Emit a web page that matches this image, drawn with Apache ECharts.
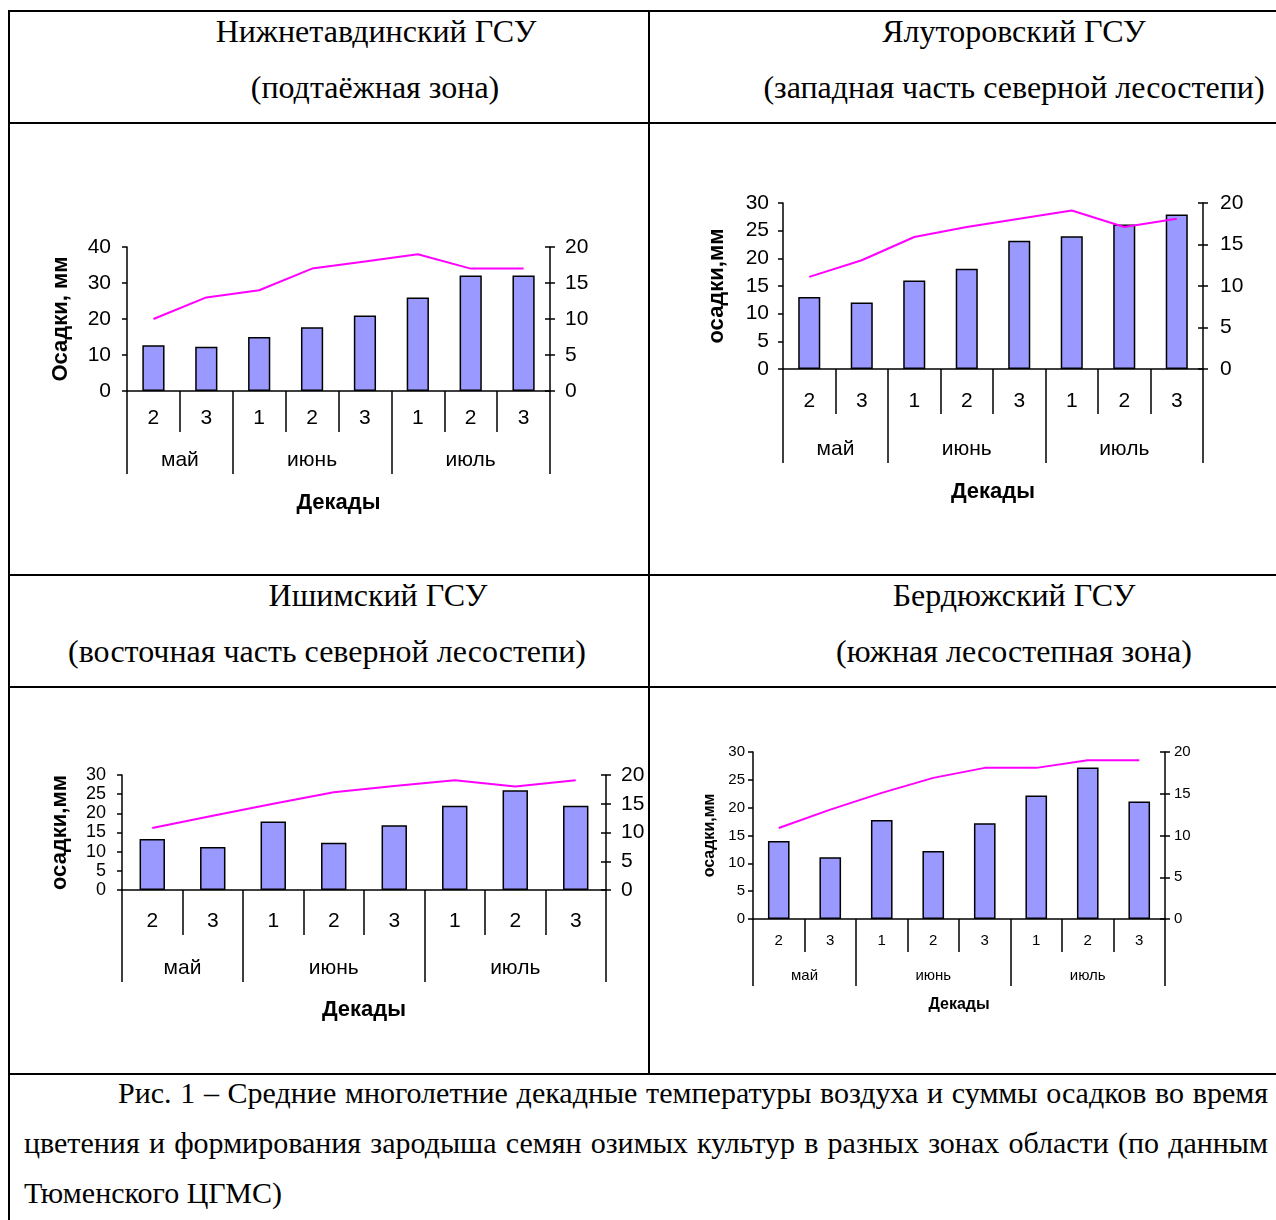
<!DOCTYPE html>
<html>
<head>
<meta charset="utf-8">
<title>Осадки и температуры</title>
<script src="https://cdn.jsdelivr.net/npm/echarts@6/dist/echarts.min.js"></script>
<style>
  body { margin: 0; background: #fff; }
  #page { position: relative; width: 1276px; height: 1220px; overflow: hidden;
          font-family: "Liberation Serif", "Times New Roman", serif; color: #000; }
  .hl { position: absolute; height: 2px; background: #000; }
  .vl { position: absolute; width: 2px; background: #000; }
  .cap { position: absolute; font-size: 32px; line-height: 36px; white-space: nowrap; transform: translateX(-50%); }
  .para { position: absolute; left: 24px; width: 1244px; font-size: 30px; line-height: 50px; white-space: nowrap; }
  .just { text-align: justify; text-align-last: justify; }
  #chart { position: absolute; left: 0; top: 0; width: 1276px; height: 1220px; }
</style>
</head>
<body>
<div id="page">
  <!-- рамка таблицы -->
  <div class="hl" style="left:8px; top:10px; width:1268px;"></div>
  <div class="hl" style="left:8px; top:122px; width:1268px;"></div>
  <div class="hl" style="left:8px; top:574px; width:1268px;"></div>
  <div class="hl" style="left:8px; top:686px; width:1268px;"></div>
  <div class="hl" style="left:8px; top:1073px; width:1268px;"></div>
  <div class="vl" style="left:8px; top:10px; height:1210px;"></div>
  <div class="vl" style="left:648px; top:10px; height:1065px;"></div>

  <!-- заголовки ячеек -->
  <div class="cap" style="left:376px; top:13px;">Нижнетавдинский ГСУ</div>
  <div class="cap" style="left:375px; top:69px;">(подтаёжная зона)</div>
  <div class="cap" style="left:1014px; top:13px;">Ялуторовский ГСУ</div>
  <div class="cap" style="left:1014px; top:69px;">(западная часть северной лесостепи)</div>
  <div class="cap" style="left:378px; top:577px;">Ишимский ГСУ</div>
  <div class="cap" style="left:327px; top:633px;">(восточная часть северной лесостепи)</div>
  <div class="cap" style="left:1014px; top:577px;">Бердюжский ГСУ</div>
  <div class="cap" style="left:1014px; top:633px;">(южная лесостепная зона)</div>

  <!-- подпись к рисунку -->
  <div class="para just" style="top:1068px; left:118px; width:1150px;">Рис. 1 – Средние многолетние декадные температуры воздуха и суммы осадков во время</div>
  <div class="para just" style="top:1118px;">цветения и формирования зародыша семян озимых культур в разных зонах области (по данным</div>
  <div class="para" style="top:1168px;">Тюменского ЦГМС)</div>

  <div id="chart"></div>
</div>

<script>
// категории: декады и месяцы
const decades = ['2', '3', '1', '2', '3', '1', '2', '3'];
const months = ['май', 'июнь', 'июль'];
const monthSpan = [2, 3, 3]; // сколько декад в каждом месяце

// осадки, мм (столбики) и температура, °C (линия)
const precipNizhnetavda = [12.7, 12.3, 15.0, 17.7, 21.0, 26.0, 32.1, 32.1];
const tempNizhnetavda   = [10.0, 13.0, 14.0, 17.0, 18.0, 19.0, 17.0, 17.0];

const precipYalutorovsk = [13.0, 12.0, 16.0, 18.1, 23.2, 24.0, 26.1, 27.9];
const tempYalutorovsk   = [11.1, 13.1, 15.9, 17.1, 18.1, 19.1, 17.1, 18.1];

const precipIshim = [13.3, 11.2, 17.9, 12.3, 16.9, 22.0, 26.0, 22.0];
const tempIshim   = [10.8, 12.9, 15.0, 17.0, 18.1, 19.1, 18.0, 19.1];

const precipBerdyuzhye = [14.0, 11.1, 17.8, 12.2, 17.2, 22.2, 27.2, 21.1];
const tempBerdyuzhye   = [10.9, 13.1, 15.1, 16.9, 18.1, 18.1, 19.0, 19.0];

const SANS = '"Liberation Sans", Arial, sans-serif';

// ось месяцев: 2 слота на декаду, подписи в серединах, засечки на границах
let monthSlots = new Array(decades.length * 2 + 1).fill('');
let monthTickIdx = [0];
let acc = 0;
months.forEach(function (m, i) {
  monthSlots[acc * 2 + monthSpan[i]] = m;
  acc += monthSpan[i];
  monthTickIdx.push(acc * 2);
});

const panels = [
  { precip: precipNizhnetavda, temp: tempNizhnetavda, pMax: 40, pStep: 10, yName: 'Осадки, мм',
    left: 127, right: 550, top: 247, bottom: 391, font: 21, lFont: 21, nameFont: 22,
    decTick: 41, monTick: 83, decMargin: 17, monMargin: 59, xNameGap: 101, yNameGap: 55,
    lMargin: 16, rMargin: 15 },
  { precip: precipYalutorovsk, temp: tempYalutorovsk, pMax: 30, pStep: 5, yName: 'осадки,мм',
    left: 783, right: 1203, top: 203, bottom: 369, font: 21, lFont: 21, nameFont: 22,
    decTick: 45, monTick: 94, decMargin: 22, monMargin: 70, xNameGap: 112, yNameGap: 55,
    lMargin: 14, rMargin: 17 },
  { precip: precipIshim, temp: tempIshim, pMax: 30, pStep: 5, yName: 'осадки,мм',
    left: 122, right: 606, top: 775, bottom: 890, font: 21, lFont: 18, nameFont: 22,
    decTick: 45, monTick: 92, decMargin: 21, monMargin: 68, xNameGap: 109, yNameGap: 51,
    lMargin: 16, rMargin: 15 },
  { precip: precipBerdyuzhye, temp: tempBerdyuzhye, pMax: 30, pStep: 5, yName: 'осадки,мм',
    left: 753, right: 1165, top: 752, bottom: 919, font: 15, lFont: 15, nameFont: 16,
    decTick: 33, monTick: 67, decMargin: 14, monMargin: 49, xNameGap: 78, yNameGap: 35,
    lMargin: 8, rMargin: 9 }
];

const black = { color: '#000', width: 1.5 };
let option = {
  animation: false,
  textStyle: { fontFamily: SANS, color: '#000' },
  grid: [], xAxis: [], yAxis: [], series: []
};

panels.forEach(function (p, i) {
  option.grid.push({
    left: p.left, top: p.top, width: p.right - p.left, height: p.bottom - p.top,
    outerBoundsMode: 'none'
  });
  // декады
  option.xAxis.push({
    type: 'category', gridIndex: i, data: decades, boundaryGap: true, position: 'bottom',
    axisLine: { show: true, lineStyle: black },
    axisTick: { show: true, interval: 0, length: p.decTick, lineStyle: black },
    axisLabel: { interval: 0, margin: p.decMargin, fontSize: p.font, color: '#000', fontFamily: SANS },
    splitLine: { show: false }
  });
  // месяцы
  option.xAxis.push({
    type: 'category', gridIndex: i, data: monthSlots, boundaryGap: false, position: 'bottom',
    axisLine: { show: false },
    axisTick: { show: true, length: p.monTick, lineStyle: black,
                interval: function (idx) { return monthTickIdx.indexOf(idx) >= 0; } },
    axisLabel: { interval: 0, margin: p.monMargin, fontSize: p.font, color: '#000', fontFamily: SANS },
    splitLine: { show: false },
    name: 'Декады', nameLocation: 'middle', nameGap: p.xNameGap, nameMoveOverlap: false,
    nameTextStyle: { fontWeight: 'bold', fontSize: p.nameFont, color: '#000', fontFamily: SANS }
  });
  // осадки
  option.yAxis.push({
    type: 'value', gridIndex: i, position: 'left', min: 0, max: p.pMax, interval: p.pStep,
    axisLine: { show: true, lineStyle: black },
    axisTick: { show: true, length: 5, lineStyle: black },
    axisLabel: { margin: p.lMargin, fontSize: p.lFont, color: '#000', fontFamily: SANS,
                 showMinLabel: true, showMaxLabel: true, hideOverlap: false },
    splitLine: { show: false },
    name: p.yName, nameLocation: 'middle', nameGap: p.yNameGap, nameMoveOverlap: false,
    nameTextStyle: { fontWeight: 'bold', fontSize: p.nameFont, color: '#000', fontFamily: SANS }
  });
  // температура
  option.yAxis.push({
    type: 'value', gridIndex: i, position: 'right', min: 0, max: 20, interval: 5,
    axisLine: { show: true, lineStyle: black },
    axisTick: { show: true, length: 5, lineStyle: black },
    axisLabel: { margin: p.rMargin, fontSize: p.font, color: '#000', fontFamily: SANS,
                 showMinLabel: true, showMaxLabel: true, hideOverlap: false },
    splitLine: { show: false }
  });
  // внутренние засечки правой оси (крестом, как в Excel)
  option.yAxis.push({
    type: 'value', gridIndex: i, position: 'right', min: 0, max: 20, interval: 5,
    axisLine: { show: false },
    axisTick: { show: true, inside: true, length: 5, lineStyle: black },
    axisLabel: { show: false },
    splitLine: { show: false }
  });

  option.series.push({
    type: 'bar', xAxisIndex: i * 2, yAxisIndex: i * 3, data: p.precip,
    barWidth: '42%', silent: true,
    itemStyle: { color: '#9999ff', borderColor: '#000', borderWidth: 1.5 }
  });
  option.series.push({
    type: 'line', xAxisIndex: i * 2, yAxisIndex: i * 3 + 1, data: p.temp,
    symbol: 'none', silent: true, z: 5,
    lineStyle: { color: '#ff00ff', width: 2 }
  });
});

let myChart = echarts.init(document.getElementById('chart'));
myChart.setOption(option);
</script>
</body>
</html>
